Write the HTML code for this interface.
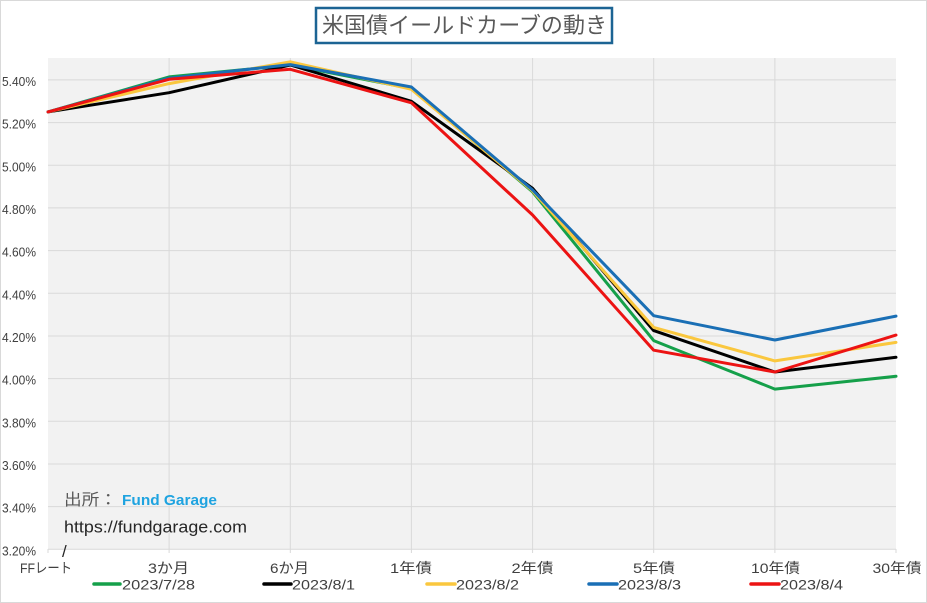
<!DOCTYPE html>
<html><head><meta charset="utf-8"><style>
html,body{margin:0;padding:0;background:#fff;}
svg{display:block;}
text{font-family:"Liberation Sans","Noto Sans CJK JP",sans-serif;}
</style></head><body>
<svg width="927" height="603" viewBox="0 0 927 603" xmlns="http://www.w3.org/2000/svg">
<rect x="0.5" y="0.5" width="926" height="602" fill="#fff" stroke="#d9d9d9" stroke-width="1"/>
<!-- title -->
<rect x="316" y="8" width="296" height="35" fill="#fff" stroke="#1c6494" stroke-width="2.5"/>
<text x="322" y="33" font-size="22" fill="#595959" textLength="285" lengthAdjust="spacingAndGlyphs">米国債イールドカーブの動き</text>
<!-- plot area -->
<rect x="48" y="58" width="848" height="491.3" fill="#f2f2f2"/>
<g stroke="#d9d9d9" stroke-width="1">
<line x1="48" x2="896" y1="506.6" y2="506.6"/>
<line x1="48" x2="896" y1="464" y2="464"/>
<line x1="48" x2="896" y1="421.3" y2="421.3"/>
<line x1="48" x2="896" y1="378.6" y2="378.6"/>
<line x1="48" x2="896" y1="336" y2="336"/>
<line x1="48" x2="896" y1="293.3" y2="293.3"/>
<line x1="48" x2="896" y1="250.6" y2="250.6"/>
<line x1="48" x2="896" y1="207.9" y2="207.9"/>
<line x1="48" x2="896" y1="165.3" y2="165.3"/>
<line x1="48" x2="896" y1="122.6" y2="122.6"/>
<line x1="48" x2="896" y1="79.9" y2="79.9"/>
<line x1="169.1" x2="169.1" y1="58" y2="553"/>
<line x1="290.3" x2="290.3" y1="58" y2="553"/>
<line x1="411.4" x2="411.4" y1="58" y2="553"/>
<line x1="532.6" x2="532.6" y1="58" y2="553"/>
<line x1="653.7" x2="653.7" y1="58" y2="553"/>
<line x1="774.9" x2="774.9" y1="58" y2="553"/>
<line x1="896" x2="896" y1="549" y2="553"/>
<line x1="48" x2="48" y1="549" y2="553"/>
<line x1="48" x2="896" y1="549.3" y2="549.3"/>
</g>
<!-- y labels -->
<g font-size="12.5" fill="#404040">
<text x="2" y="555.3" textLength="34" lengthAdjust="spacingAndGlyphs">3.20%</text>
<text x="2" y="512.6" textLength="34" lengthAdjust="spacingAndGlyphs">3.40%</text>
<text x="2" y="470" textLength="34" lengthAdjust="spacingAndGlyphs">3.60%</text>
<text x="2" y="427.3" textLength="34" lengthAdjust="spacingAndGlyphs">3.80%</text>
<text x="2" y="384.6" textLength="34" lengthAdjust="spacingAndGlyphs">4.00%</text>
<text x="2" y="342" textLength="34" lengthAdjust="spacingAndGlyphs">4.20%</text>
<text x="2" y="299.3" textLength="34" lengthAdjust="spacingAndGlyphs">4.40%</text>
<text x="2" y="256.6" textLength="34" lengthAdjust="spacingAndGlyphs">4.60%</text>
<text x="2" y="213.9" textLength="34" lengthAdjust="spacingAndGlyphs">4.80%</text>
<text x="2" y="171.3" textLength="34" lengthAdjust="spacingAndGlyphs">5.00%</text>
<text x="2" y="128.6" textLength="34" lengthAdjust="spacingAndGlyphs">5.20%</text>
<text x="2" y="85.9" textLength="34" lengthAdjust="spacingAndGlyphs">5.40%</text>
</g>
<!-- x labels -->
<g font-size="14" fill="#404040">
<text x="20" y="573" textLength="52" lengthAdjust="spacingAndGlyphs">FFレート</text>
<text x="148" y="573" textLength="41" lengthAdjust="spacingAndGlyphs">3か月</text>
<text x="270" y="573" textLength="39" lengthAdjust="spacingAndGlyphs">6か月</text>
<text x="390" y="573" textLength="42" lengthAdjust="spacingAndGlyphs">1年債</text>
<text x="511.5" y="573" textLength="42" lengthAdjust="spacingAndGlyphs">2年債</text>
<text x="633" y="573" textLength="42" lengthAdjust="spacingAndGlyphs">5年債</text>
<text x="751" y="573" textLength="49" lengthAdjust="spacingAndGlyphs">10年債</text>
<text x="872.5" y="573" textLength="49" lengthAdjust="spacingAndGlyphs">30年債</text>
</g>
<!-- series -->
<g fill="none" stroke-width="3" stroke-linejoin="round" stroke-linecap="round">
<polyline stroke="#15a04a" points="48,111.9 169.1,76.9 290.3,65 411.4,88.5 532.6,191.9 653.7,340.6 774.9,389.1 896,376.3"/>
<polyline stroke="#000000" points="48,111.9 169.1,92.7 290.3,65 411.4,101.3 532.6,188.3 653.7,330.6 774.9,372 896,357.3"/>
<polyline stroke="#fac73e" points="48,111.9 169.1,83.6 290.3,61.8 411.4,89.3 532.6,190.9 653.7,327.4 774.9,360.9 896,342.4"/>
<polyline stroke="#1a6fb5" points="48,111.9 169.1,78.2 290.3,64.6 411.4,87 532.6,190 653.7,315.7 774.9,340 896,316.1"/>
<polyline stroke="#ec1313" points="48,111.9 169.1,79.3 290.3,69.3 411.4,102.8 532.6,215 653.7,350.2 774.9,372 896,335.1"/>
</g>
<!-- annotation -->
<text x="64" y="505" font-size="16" fill="#595959" textLength="53" lengthAdjust="spacingAndGlyphs">出所：</text>
<text x="122" y="505" font-size="15" font-weight="bold" fill="#1ea3e0" textLength="95" lengthAdjust="spacingAndGlyphs">Fund Garage</text>
<text x="64" y="532.5" font-size="17" fill="#262626" textLength="183" lengthAdjust="spacingAndGlyphs">https://fundgarage.com</text>
<text x="62" y="557" font-size="17" fill="#262626">/</text>
<!-- legend -->
<g stroke-width="3.5" stroke-linecap="round">
<line x1="94" x2="120" y1="584" y2="584" stroke="#15a04a"/>
<line x1="264" x2="291" y1="584" y2="584" stroke="#000000"/>
<line x1="427" x2="455" y1="584" y2="584" stroke="#fac73e"/>
<line x1="589" x2="617" y1="584" y2="584" stroke="#1a6fb5"/>
<line x1="751" x2="779" y1="584" y2="584" stroke="#ec1313"/>
</g>
<g font-size="14" fill="#404040">
<text x="122" y="589.5" textLength="73" lengthAdjust="spacingAndGlyphs">2023/7/28</text>
<text x="292" y="589.5" textLength="63" lengthAdjust="spacingAndGlyphs">2023/8/1</text>
<text x="456" y="589.5" textLength="63" lengthAdjust="spacingAndGlyphs">2023/8/2</text>
<text x="618" y="589.5" textLength="63" lengthAdjust="spacingAndGlyphs">2023/8/3</text>
<text x="780" y="589.5" textLength="63" lengthAdjust="spacingAndGlyphs">2023/8/4</text>
</g>
</svg>
</body></html>
